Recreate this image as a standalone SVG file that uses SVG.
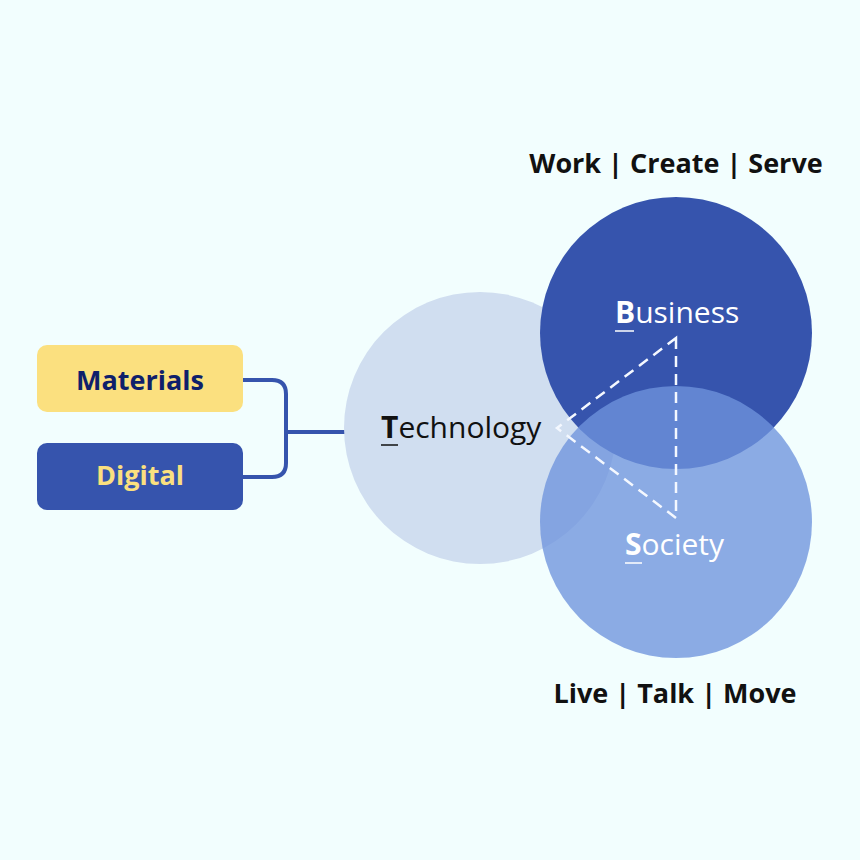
<svg xmlns="http://www.w3.org/2000/svg" width="860" height="860" viewBox="0 0 860 860">
<style>
.t{font-family:"Open Sans","Liberation Sans",sans-serif;}
.head{font-size:27px;font-weight:700;fill:#111;text-anchor:middle;}
.box{font-size:27px;font-weight:700;text-anchor:middle;}
.lbl{font-size:30px;}
.conn{fill:none;stroke:#3654AD;stroke-width:4;}
.dash{fill:none;stroke:#F4F8FF;stroke-width:2.5;stroke-dasharray:11 7;}
</style>
<rect width="860" height="860" fill="#F2FEFE"/>
<g id="connectors">
<path class="conn" d="M243 380 H272 Q286 380 286 394 V463 Q286 477 272 477 H243 M286 432 H348"/>
</g>
<g id="technology">
<circle cx="480" cy="428" r="136" fill="#D0DEF0"/>
</g>
<g id="business">
<circle cx="676" cy="333" r="136" fill="#3654AD"/>
</g>
<g id="society">
<circle cx="676" cy="522" r="136" fill="#6E94DD" fill-opacity="0.78"/>
</g>
<g id="triangle">
<path class="dash" d="M676 338 V518 L557 428 Z"/>
</g>
<g id="technology-label">
<text class="t lbl" x="381" y="438" fill="#111"><tspan font-weight="700">T</tspan>echnology</text>
<line x1="381" y1="445" x2="398" y2="445" stroke="#111" stroke-width="1.5"/>
</g>
<g id="business-label">
<text class="t lbl" x="615" y="323" fill="#fff"><tspan font-weight="700">B</tspan>usiness</text>
<line x1="615" y1="331" x2="634" y2="331" stroke="#fff" stroke-width="1.5"/>
</g>
<g id="society-label">
<text class="t lbl" x="625" y="555" fill="#fff"><tspan font-weight="700">S</tspan>ociety</text>
<line x1="625" y1="563" x2="642" y2="563" stroke="#fff" stroke-width="1.5"/>
</g>
<g id="materials">
<rect x="37" y="345" width="206" height="67" rx="10" fill="#FBE07F"/>
<text class="t box" x="140" y="390" fill="#0F1F6B">Materials</text>
</g>
<g id="digital">
<rect x="37" y="443" width="206" height="67" rx="10" fill="#3654AD"/>
<text class="t box" x="140" y="485" fill="#FBE07F">Digital</text>
</g>
<g id="top-heading">
<text class="t head" x="676" y="173">Work | Create | Serve</text>
</g>
<g id="bottom-heading">
<text class="t head" x="675" y="703">Live | Talk | Move</text>
</g>
</svg>
